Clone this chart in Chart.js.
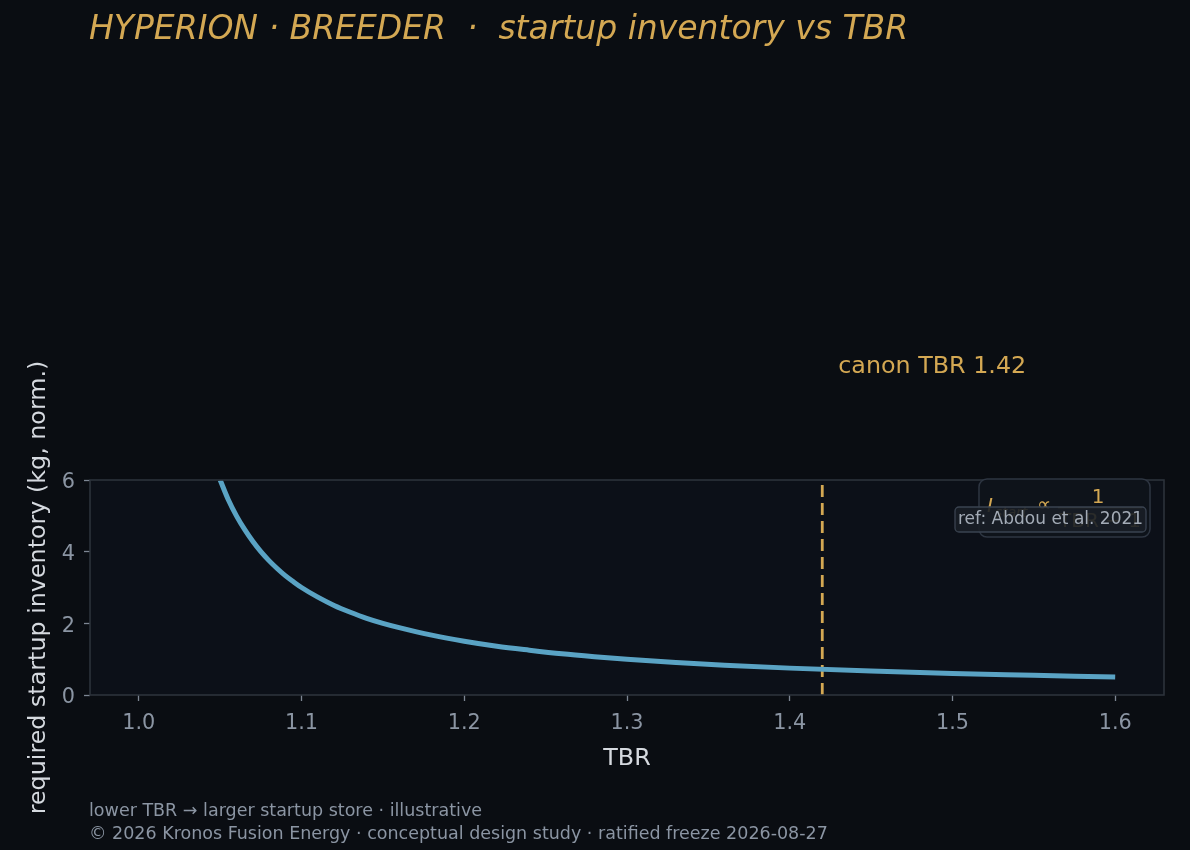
<!DOCTYPE html>
<html>
<head>
<meta charset="utf-8">
<script src="https://cdn.jsdelivr.net/npm/chart.js@4.4.1/dist/chart.umd.min.js"></script>
<style>
  html, body { margin: 0; padding: 0; background: #0a0d12; }
  #wrap { width: 1190px; height: 850px; }
</style>
</head>
<body>
<div id="wrap"><canvas id="chart" width="1190" height="850"></canvas></div>
<script>
// values
const tbrValues = [1.05, 1.055, 1.06, 1.065, 1.07, 1.075, 1.08, 1.085, 1.09, 1.095, 1.10, 1.11, 1.12, 1.13, 1.14, 1.15, 1.16, 1.18, 1.20, 1.22, 1.24, 1.26, 1.28, 1.30, 1.33, 1.36, 1.40, 1.45, 1.50, 1.55, 1.60];
const inventory = [6.00, 5.45, 5.00, 4.62, 4.29, 4.00, 3.75, 3.53, 3.33, 3.16, 3.00, 2.73, 2.50, 2.31, 2.14, 2.00, 1.88, 1.67, 1.50, 1.36, 1.25, 1.15, 1.07, 1.00, 0.91, 0.83, 0.75, 0.67, 0.60, 0.55, 0.50];
const canonTbr = 1.42;
const xTicks = [1.0, 1.1, 1.2, 1.3, 1.4, 1.5, 1.6];
const yTicks = [0, 2, 4, 6];

const titleText = 'HYPERION · BREEDER  ·  startup inventory vs TBR';
const canonText = 'canon TBR 1.42';
const yLabel = 'required startup inventory (kg, norm.)';
const xLabel = 'TBR';
const refText = 'ref: Abdou et al. 2021';
const footLines = ['lower TBR → larger startup store · illustrative',
                   '© 2026 Kronos Fusion Energy · conceptual design study · ratified freeze 2026-08-27'];

const GOLD = '#d4a853';
const MUTED = '#8b95a3';
const SPINE = '#2c323b';
const FONT = '"DejaVu Sans", sans-serif';

function roundRect(ctx, x, y, w, h, r) {
    ctx.beginPath();
    ctx.moveTo(x + r, y);
    ctx.arcTo(x + w, y, x + w, y + h, r);
    ctx.arcTo(x + w, y + h, x, y + h, r);
    ctx.arcTo(x, y + h, x, y, r);
    ctx.arcTo(x, y, x + w, y, r);
    ctx.closePath();
}

const decor = {
    id: 'decor',
    beforeDraw(chart) {
        const { ctx, chartArea: a } = chart;
        ctx.save();
        ctx.fillStyle = '#0a0d12';
        ctx.fillRect(0, 0, chart.width, chart.height);
        ctx.fillStyle = '#0c1018';
        ctx.fillRect(a.left, a.top, a.right - a.left, a.bottom - a.top);
        ctx.restore();
    },
    afterDatasetsDraw(chart) {
        const { ctx, chartArea: a, scales } = chart;
        ctx.save();
        // spines
        ctx.strokeStyle = SPINE;
        ctx.lineWidth = 1.6;
        ctx.strokeRect(a.left, a.top, a.right - a.left, a.bottom - a.top);

        // title
        ctx.fillStyle = GOLD;
        ctx.font = 'italic 33px ' + FONT;
        ctx.textAlign = 'left';
        ctx.textBaseline = 'alphabetic';
        ctx.fillText(titleText, 89, 39);

        // canon label, placed from the scale
        ctx.font = '23.8px ' + FONT;
        ctx.fillText(canonText, scales.x.getPixelForValue(canonTbr) + 16, 373);

        // axis titles
        ctx.fillStyle = '#d5d9df';
        ctx.textAlign = 'center';
        ctx.fillText(xLabel, (a.left + a.right) / 2, 765);
        ctx.save();
        ctx.translate(45, (a.top + a.bottom) / 2);
        ctx.rotate(-Math.PI / 2);
        ctx.fillText(yLabel, 0, 0);
        ctx.restore();

        // formula box
        ctx.textAlign = 'left';
        roundRect(ctx, 979, 479, 171, 58, 8);
        ctx.fillStyle = '#0e131a';
        ctx.fill();
        ctx.strokeStyle = '#2e3642';
        ctx.lineWidth = 1.5;
        ctx.stroke();
        ctx.fillStyle = GOLD;
        ctx.font = 'italic 20px ' + FONT;
        ctx.fillText('I', 987, 512);
        ctx.font = 'italic 14px ' + FONT;
        ctx.fillText('start', 995, 517);
        ctx.font = '20px ' + FONT;
        ctx.fillText('∝', 1037, 511);
        ctx.textAlign = 'center';
        ctx.fillText('1', 1098, 503);
        ctx.fillRect(1058, 507, 84, 1.3);
        ctx.fillText('TBR − 1', 1100, 527);

        // ref box over it
        ctx.textAlign = 'left';
        roundRect(ctx, 955, 507, 191, 25, 4);
        ctx.fillStyle = 'rgba(24, 30, 38, 0.9)';
        ctx.fill();
        ctx.strokeStyle = '#3a4350';
        ctx.lineWidth = 1.3;
        ctx.stroke();
        ctx.fillStyle = '#a3abb6';
        ctx.font = '17px ' + FONT;
        ctx.textBaseline = 'middle';
        ctx.fillText(refText, 958, 520);

        // footer
        ctx.fillStyle = MUTED;
        ctx.font = '17.5px ' + FONT;
        ctx.textBaseline = 'alphabetic';
        ctx.fillText(footLines[0], 89, 816);
        ctx.fillText(footLines[1], 89, 839);
        ctx.restore();
    }
};

Chart.defaults.font.family = FONT;

new Chart(document.getElementById('chart'), {
    type: 'line',
    data: {
        datasets: [{
            label: 'startup inventory',
            data: tbrValues.map((t, i) => ({ x: t, y: inventory[i] })),
            borderColor: '#5aa3c4',
            borderWidth: 5,
            borderCapStyle: 'butt',
            borderJoinStyle: 'round',
            pointRadius: 0,
            cubicInterpolationMode: 'monotone',
            fill: false
        }, {
            label: 'canon',
            data: [{ x: canonTbr, y: yTicks[0] }, { x: canonTbr, y: yTicks[yTicks.length - 1] }],
            borderColor: GOLD,
            borderWidth: 2.8,
            borderDash: [12, 6],
            borderCapStyle: 'butt',
            pointRadius: 0,
            fill: false
        }]
    },
    options: {
        responsive: false,
        animation: false,
        devicePixelRatio: 1,
        layout: { padding: { top: 480, left: 0, right: 26, bottom: 95 } },
        plugins: { legend: { display: false }, tooltip: { enabled: false }, title: { display: false } },
        scales: {
            x: {
                type: 'linear',
                min: 0.97,
                max: 1.63,
                afterBuildTicks: s => { s.ticks = xTicks.map(v => ({ value: v })); },
                afterFit: s => { s.height = 60; },
                border: { display: false },
                grid: { drawOnChartArea: false, drawTicks: true, tickLength: 6, tickWidth: 1.3, tickColor: '#7d8693' },
                ticks: { color: MUTED, font: { size: 20.8 }, padding: 10, callback: v => v.toFixed(1), maxRotation: 0 }
            },
            y: {
                type: 'linear',
                min: 0,
                max: 6,
                afterBuildTicks: s => { s.ticks = yTicks.map(v => ({ value: v })); },
                afterFit: s => { s.width = 90; },
                border: { display: false },
                grid: { drawOnChartArea: false, drawTicks: true, tickLength: 6, tickWidth: 1.3, tickColor: '#7d8693' },
                ticks: { color: MUTED, font: { size: 20.8 }, padding: 9, labelOffset: 3 }
            }
        }
    },
    plugins: [decor]
});
</script>
</body>
</html>
